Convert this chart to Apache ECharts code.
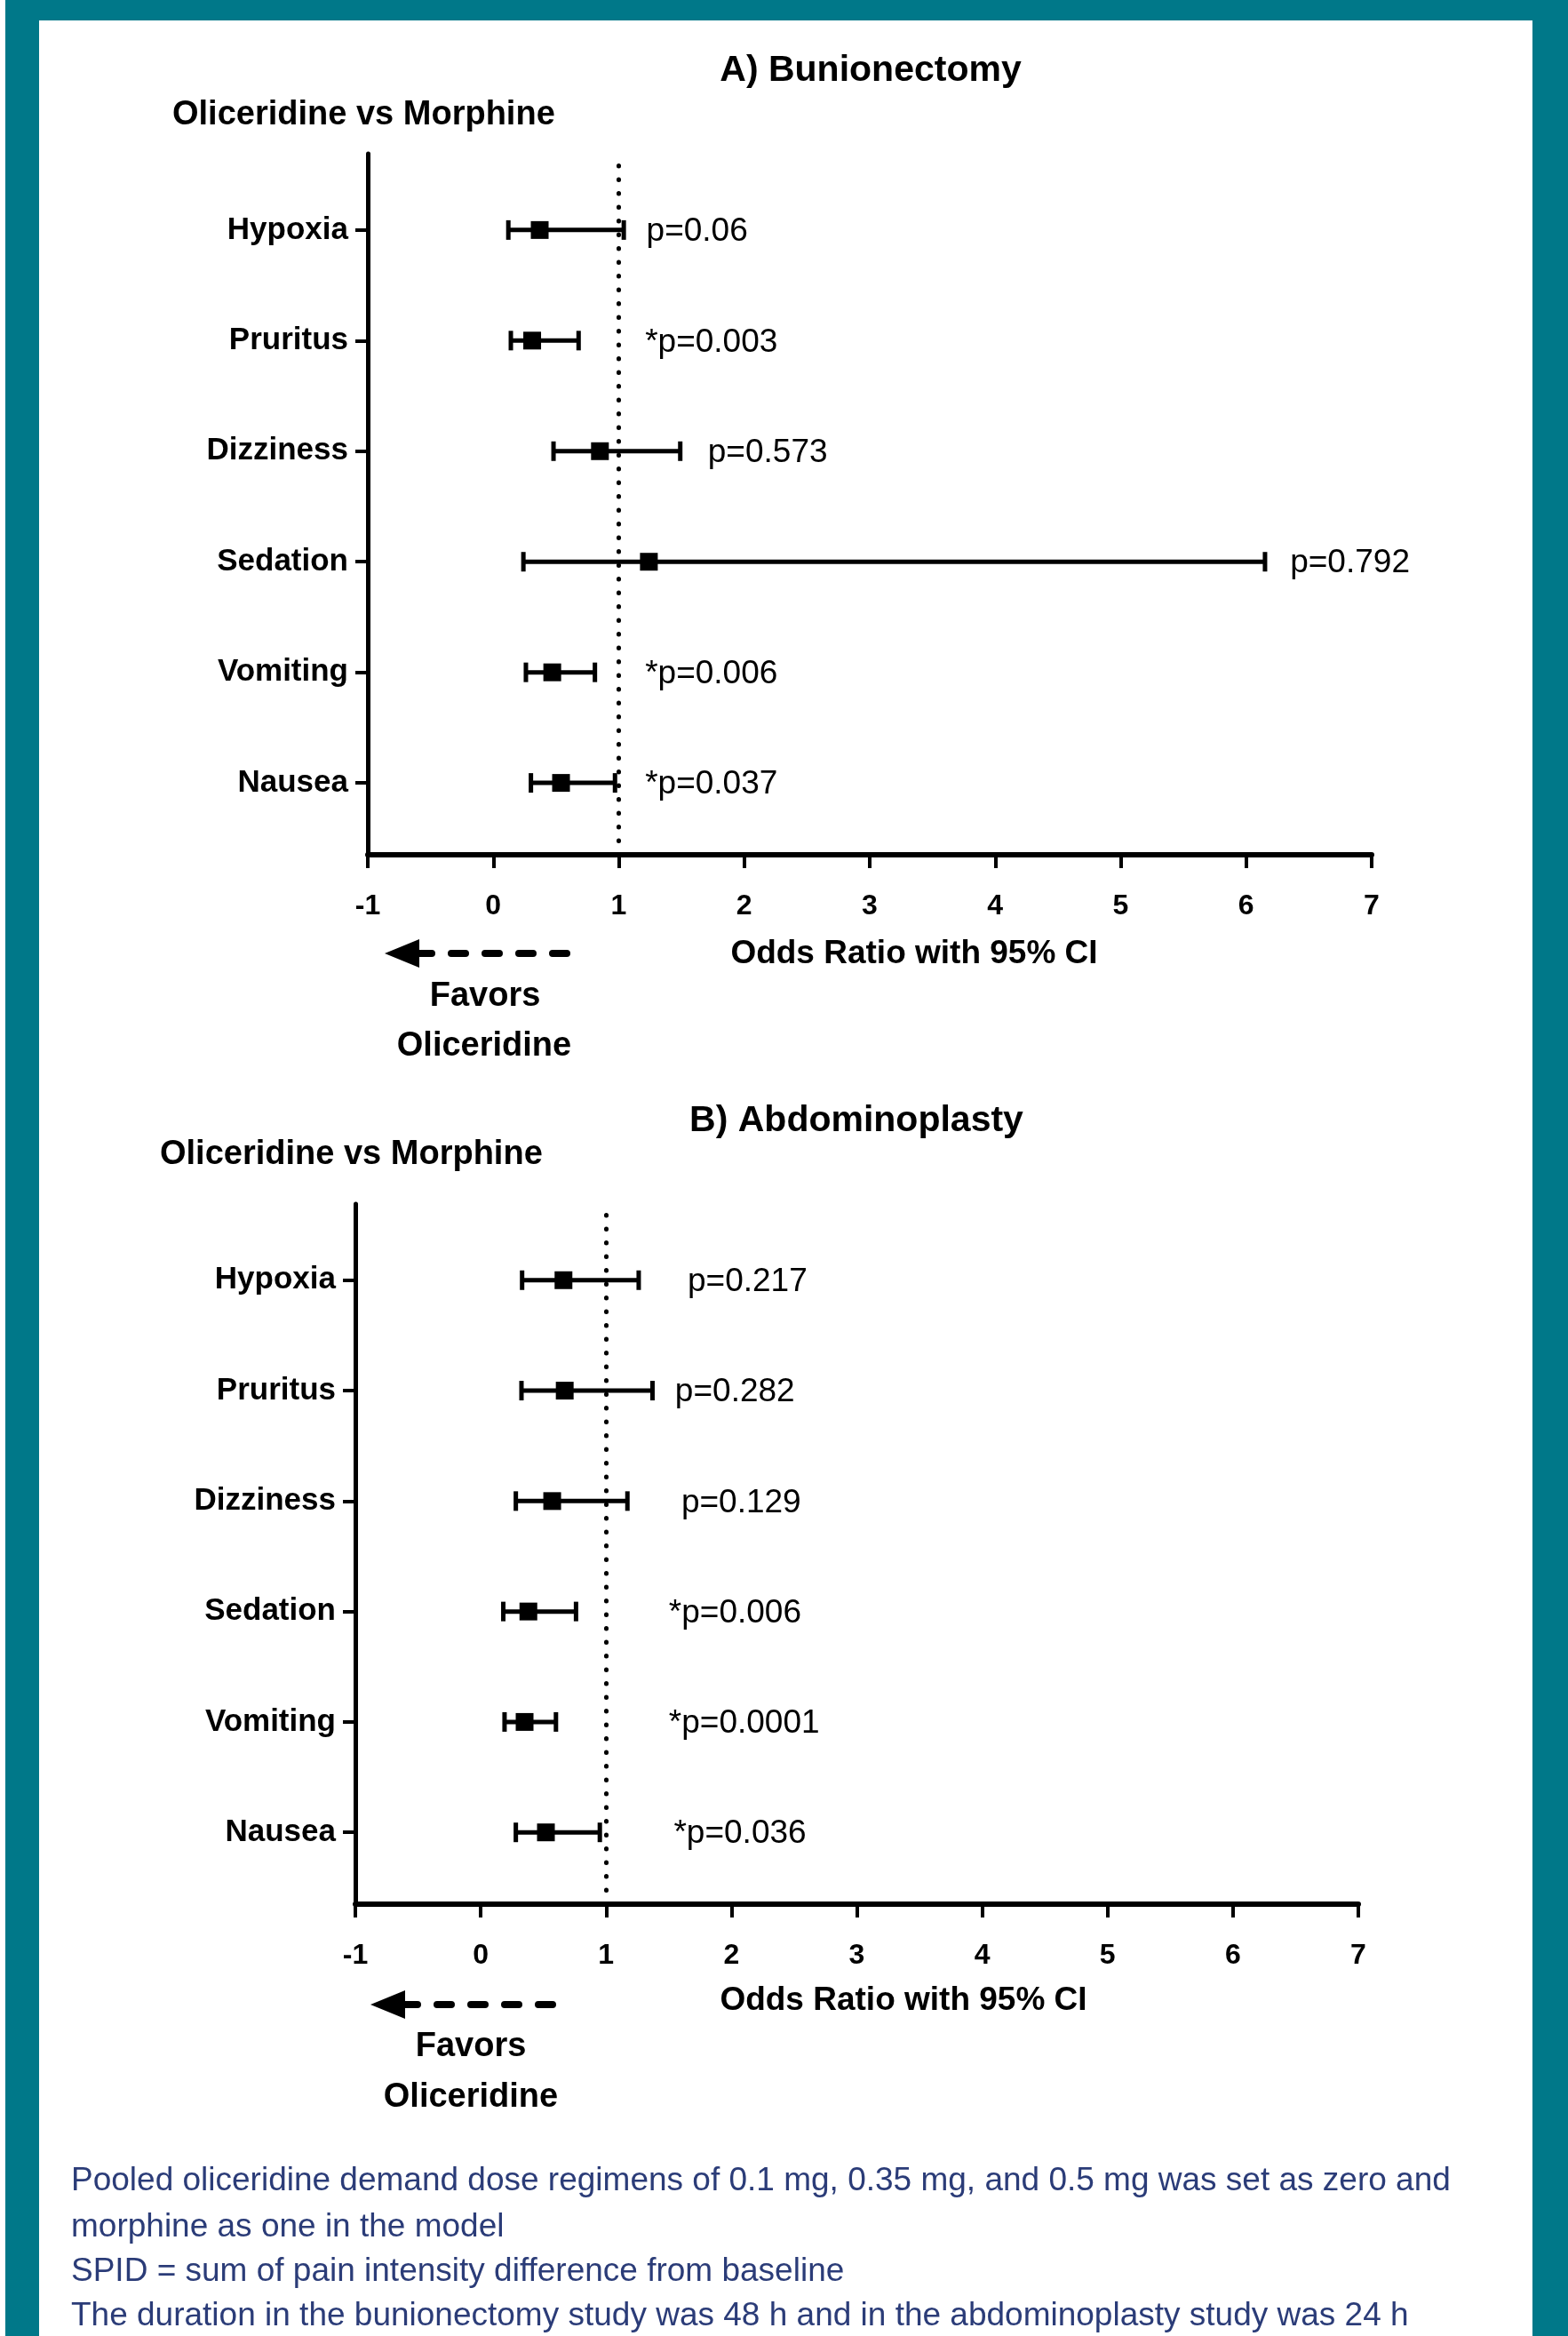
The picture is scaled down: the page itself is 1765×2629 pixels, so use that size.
<!DOCTYPE html>
<html><head><meta charset="utf-8">
<script src="https://cdn.jsdelivr.net/npm/echarts@6/dist/echarts.min.js"></script>
<style>
html,body{margin:0;padding:0;background:#fff;}
#frame{position:absolute;left:6px;top:0;width:1759px;height:2629px;background:#007889;}
#inner{position:absolute;left:44px;top:23px;width:1681px;height:2606px;background:#fff;}
#chart{position:absolute;left:0;top:0;width:1765px;height:2629px;}
</style></head><body>
<div id="frame"></div><div id="inner"></div><div id="chart"></div>
<script>
// ---- data (top-to-bottom order) ----
const categories = ['Hypoxia', 'Pruritus', 'Dizziness', 'Sedation', 'Vomiting', 'Nausea'];
const xTickMin = -1, xTickMax = 7;

const bunionOR   = [0.37, 0.31, 0.85, 1.24, 0.47, 0.54];
const bunionLow  = [0.12, 0.14, 0.48, 0.24, 0.26, 0.30];
const bunionHigh = [1.04, 0.68, 1.49, 6.15, 0.81, 0.97];
const bunionP    = ['p=0.06', '*p=0.003', 'p=0.573', 'p=0.792', '*p=0.006', '*p=0.037'];
const bunionPAt  = [1.22, 1.21, 1.71, 6.35, 1.21, 1.21];

const abdoOR   = [0.66, 0.67, 0.57, 0.38, 0.35, 0.52];
const abdoLow  = [0.33, 0.325, 0.28, 0.18, 0.19, 0.28];
const abdoHigh = [1.26, 1.37, 1.17, 0.76, 0.60, 0.95];
const abdoP    = ['p=0.217', 'p=0.282', 'p=0.129', '*p=0.006', '*p=0.0001', '*p=0.036'];
const abdoPAt  = [1.65, 1.55, 1.60, 1.50, 1.50, 1.54];

const titleA = 'A) Bunionectomy';
const titleB = 'B) Abdominoplasty';
const compareLabel = 'Oliceridine vs Morphine';
const xName = 'Odds Ratio with 95% CI';
const favors1 = 'Favors', favors2 = 'Oliceridine';
const footnotes = [
  'Pooled oliceridine demand dose regimens of 0.1 mg, 0.35 mg, and 0.5 mg was set as zero and',
  'morphine as one in the model',
  'SPID = sum of pain intensity difference from baseline',
  'The duration in the bunionectomy study was 48 h and in the abdominoplasty study was 24 h'
];

// ---- build ----
const FF = '"Liberation Sans", Arial, Helvetica, sans-serif';
const N = categories.length;
const catPos = categories.map((c, i) => N - i);

function buildData(low, or, high, pAt) {
  return categories.map((c, i) => [low[i], or[i], high[i], catPos[i], pAt[i]]);
}

function makeRender(pTexts) {
  return function (params, api) {
    const y = api.value(3);
    const a = api.coord([api.value(0), y]);
    const m = api.coord([api.value(1), y]);
    const b = api.coord([api.value(2), y]);
    const t = api.coord([api.value(4), y]);
    const st = { stroke: '#000', lineWidth: 5 };
    return {
      type: 'group',
      children: [
        { type: 'line', shape: { x1: a[0], y1: a[1], x2: b[0], y2: b[1] }, style: st },
        { type: 'line', shape: { x1: a[0], y1: a[1] - 11, x2: a[0], y2: a[1] + 11 }, style: st },
        { type: 'line', shape: { x1: b[0], y1: b[1] - 11, x2: b[0], y2: b[1] + 11 }, style: st },
        { type: 'rect', shape: { x: m[0] - 10, y: m[1] - 10, width: 20, height: 20 }, style: { fill: '#000' } },
        { type: 'text', x: t[0], y: t[1] + 2, style: { text: pTexts[params.dataIndex], font: '37px ' + FF, fill: '#000',
          align: 'left', verticalAlign: 'middle', textAlign: 'left', textVerticalAlign: 'middle' } }
      ]
    };
  };
}

function xAxisCfg(gi) {
  return {
    gridIndex: gi, type: 'value', min: xTickMin, max: xTickMax, interval: 1,
    axisLine: { show: true, onZero: false, lineStyle: { color: '#000', width: 6 } },
    axisTick: { show: true, inside: false, length: 15, lineStyle: { color: '#000', width: 4 } },
    axisLabel: { margin: 42, color: '#000', fontWeight: 'bold', fontSize: 32, fontFamily: FF },
    splitLine: { show: false }
  };
}
function yAxisCfg(gi) {
  return {
    gridIndex: gi, type: 'value', min: 0.35, max: 6.69,
    axisLine: { show: true, onZero: false, lineStyle: { color: '#000', width: 5 } },
    axisTick: { show: true, inside: false, length: 14, customValues: catPos, lineStyle: { color: '#000', width: 4 } },
    axisLabel: { customValues: catPos, margin: 22, color: '#000', fontWeight: 'bold', fontSize: 35, fontFamily: FF,
      formatter: v => categories[N - Math.round(v)] },
    splitLine: { show: false }
  };
}
function refLine() {
  return {
    silent: true, symbol: ['none', 'none'], label: { show: false },
    lineStyle: { color: '#000', width: 5, type: [0.5, 15], cap: 'round' },
    data: [{ xAxis: 1 }]
  };
}

function txt(x, y, text, font, align, fill) {
  return { type: 'text', x: x, y: y, silent: true,
    style: { text: text, font: font, fill: fill || '#000', align: align, verticalAlign: 'middle',
      textAlign: align, textVerticalAlign: 'middle' } };
}
function arrow(tipX, y) {
  const base = tipX + 39;
  return [
    { type: 'polygon', silent: true, shape: { points: [[tipX, y], [base, y - 16], [base, y + 16]] }, style: { fill: '#000' } },
    { type: 'line', silent: true, shape: { x1: base - 2, y1: y, x2: base + 166, y2: y },
      style: { stroke: '#000', lineWidth: 8, lineDash: [16, 22], lineCap: 'round' } }
  ];
}

const B = 'bold ';
const graphics = [
  txt(980, 80, titleA, B + '41px ' + FF, 'center'),
  txt(194, 130, compareLabel, B + '38px ' + FF, 'left'),
  txt(1029, 1074, xName, B + '37px ' + FF, 'center'),
  txt(546, 1122, favors1, B + '38px ' + FF, 'center'),
  txt(545, 1178, favors2, B + '38px ' + FF, 'center'),
  ...arrow(433, 1073),
  txt(964, 1262, titleB, B + '41px ' + FF, 'center'),
  txt(180, 1300, compareLabel, B + '38px ' + FF, 'left'),
  txt(1017, 2252, xName, B + '37px ' + FF, 'center'),
  txt(530, 2304, favors1, B + '38px ' + FF, 'center'),
  txt(530, 2361, favors2, B + '38px ' + FF, 'center'),
  ...arrow(417, 2256)
];
const fnY = [2455, 2507, 2557, 2607];
footnotes.forEach((f, i) => graphics.push(txt(80, fnY[i], f, '37px ' + FF, 'left', '#2B3C78')));

const chart = echarts.init(document.getElementById('chart'), null, { renderer: 'canvas' });
chart.setOption({
  animation: false,
  backgroundColor: 'transparent',
  grid: [
    { left: 414, top: 173, width: 1130, height: 789 },
    { left: 400, top: 1355, width: 1129, height: 788 }
  ],
  xAxis: [xAxisCfg(0), xAxisCfg(1)],
  yAxis: [yAxisCfg(0), yAxisCfg(1)],
  series: [
    { type: 'custom', xAxisIndex: 0, yAxisIndex: 0, renderItem: makeRender(bunionP),
      data: buildData(bunionLow, bunionOR, bunionHigh, bunionPAt), markLine: refLine(), clip: false },
    { type: 'custom', xAxisIndex: 1, yAxisIndex: 1, renderItem: makeRender(abdoP),
      data: buildData(abdoLow, abdoOR, abdoHigh, abdoPAt), markLine: refLine(), clip: false }
  ],
  graphic: graphics
});
</script>
</body></html>
